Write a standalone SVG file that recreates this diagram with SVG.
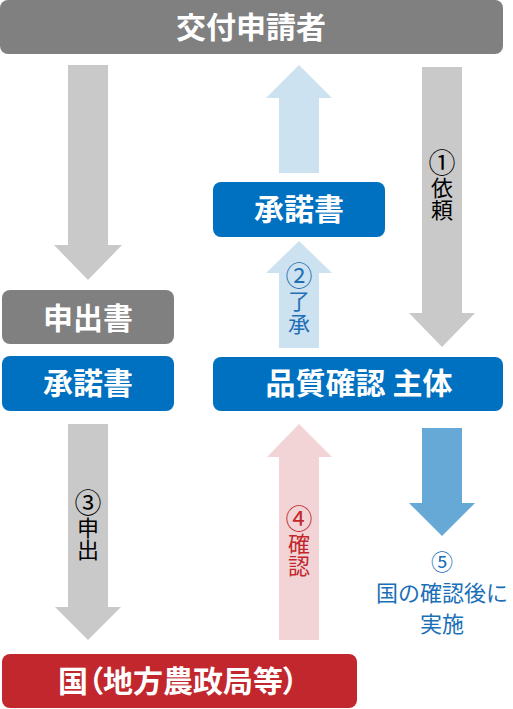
<svg xmlns="http://www.w3.org/2000/svg" width="513" height="709" viewBox="0 0 513 709">
<style>
.lbl{font-family:"Noto Sans CJK JP","Noto Sans",sans-serif;font-weight:bold;fill:#fff;text-anchor:middle}
.note{font-family:"Noto Sans CJK JP","Noto Sans",sans-serif;text-anchor:middle;font-size:22px}
.vert{writing-mode:vertical-rl}
.num{font-size:27px}
.gray{fill:#808080}
.blue{fill:#0070C0}
.red{fill:#C1272D}
</style>
<rect width="513" height="709" fill="#fff"/>
<g id="connectors">
  <polygon points="68,65 108,65 108,245 122,245 88,280 54,245 68,245" fill="#C9C9C9"/>
  <polygon points="279,173 279,98 266,98 299,65 332,98 319,98 319,173" fill="#CDE2F0"/>
  <polygon points="279,348 279,273 266,273 299,241 332,273 319,273 319,348" fill="#CDE2F0"/>
  <polygon points="422,67 462,67 462,313 475,313 442,347 409,313 422,313" fill="#C9C9C9"/>
  <polygon points="68,424 108,424 108,607 121,607 88,640 55,607 68,607" fill="#C9C9C9"/>
  <polygon points="279,640 279,457 267,457 299,424 332,457 319,457 319,640" fill="#F2D4D6"/>
  <polygon points="422,428 462,428 462,503 475,503 442,536 409,503 422,503" fill="#66A9D6"/>
  <text class="note vert" x="442" y="185" fill="#000"><tspan class="num">①</tspan>依頼</text>
  <text class="note vert" x="299" y="299" fill="#1F6FB5" letter-spacing="1"><tspan class="num">②</tspan>了承</text>
  <text class="note vert" x="88" y="525" fill="#000"><tspan class="num">③</tspan>申出</text>
  <text class="note vert" x="299" y="541" fill="#C1272D" letter-spacing="0.5"><tspan class="num">④</tspan>確認</text>
  <text class="note" x="442" y="570" fill="#1A6FB8" font-size="26">⑤</text>
  <text class="note" fill="#1A6FB8" font-size="23"><tspan x="442" y="601">国の確認後に</tspan><tspan x="442" y="632">実施</tspan></text>
</g>
<g id="applicant">
  <rect class="gray" x="0" y="0" width="503" height="54" rx="8"/>
  <text class="lbl" x="251" y="38" font-size="30">交付申請者</text>
</g>
<g id="consent-top">
  <rect class="blue" x="213" y="182" width="172" height="55" rx="8"/>
  <text class="lbl" x="299" y="220" font-size="30">承諾書</text>
</g>
<g id="application">
  <rect class="gray" x="2" y="290" width="172" height="54" rx="8"/>
  <text class="lbl" x="88" y="329" font-size="30">申出書</text>
</g>
<g id="consent-left">
  <rect class="blue" x="2" y="356" width="172" height="55" rx="8"/>
  <text class="lbl" x="88" y="394" font-size="30">承諾書</text>
</g>
<g id="quality">
  <rect class="blue" x="213" y="357" width="290" height="54" rx="8"/>
  <text class="lbl" x="359" y="394" font-size="30">品質確認 主体</text>
</g>
<g id="government">
  <rect class="red" x="2" y="654" width="355" height="54" rx="8"/>
  <text class="lbl" x="178" y="692" font-size="30" style="font-feature-settings:'palt'">国（地方農政局等）</text>
</g>
</svg>
